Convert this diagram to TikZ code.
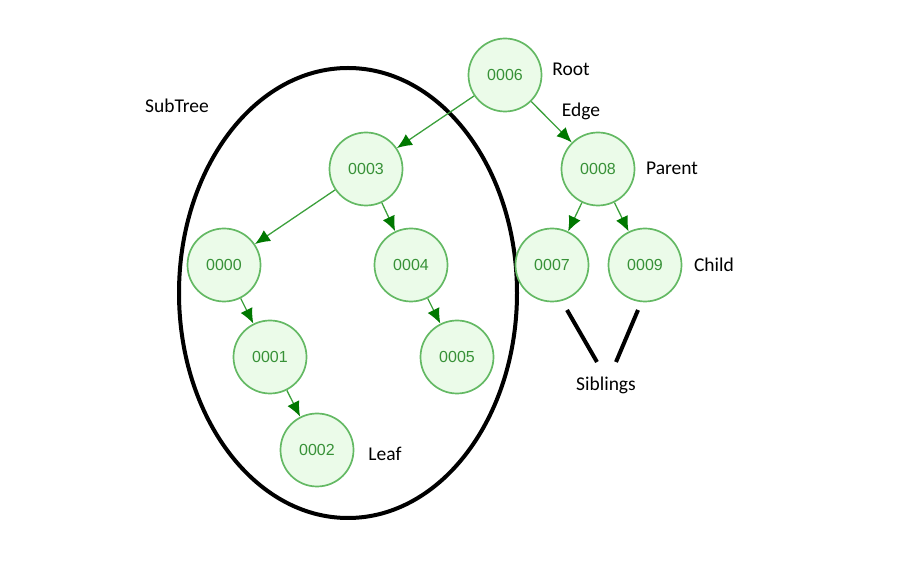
\documentclass[tikz,border=0pt]{standalone}
\usepackage{fontspec}
\setmainfont{Carlito}
\newfontfamily\keyfont{Liberation Sans}
\usetikzlibrary{arrows.meta}
\definecolor{keyfill}{RGB}{235,251,233}
\definecolor{keydraw}{RGB}{100,185,100}
\definecolor{keytext}{RGB}{55,145,55}
\definecolor{edgeline}{RGB}{60,160,60}
\definecolor{edgehead}{RGB}{0,120,0}
\tikzset{
  treekey/.style={circle,draw=keydraw,fill=keyfill,line width=1.7bp,minimum size=73bp,inner sep=0pt,
    text=keytext,font=\keyfont\fontsize{16bp}{19bp}\selectfont},
  treelabel/.style={draw=none,font=\fontsize{19.5bp}{23bp}\selectfont},
  treeedge/.style={edgeline,line width=1.3bp,-{Latex[length=15bp,width=13bp,color=edgehead]}},
}
\begin{document}
\begin{tikzpicture}[line join=bevel,]
\useasboundingbox (0bp,0bp) rectangle (897bp,569bp);
%%
\draw [black,line width=4bp] (348bp,276bp) ellipse (169bp and 225bp);
%
\node (node_6) at (505bp,494bp) [treekey] {0006};
  \node (node_3) at (366bp,400bp) [treekey] {0003};
  \node (node_8) at (598bp,400bp) [treekey] {0008};
  \node (node_0) at (224bp,304bp) [treekey] {0000};
  \node (node_4) at (411bp,304bp) [treekey] {0004};
  \node (node_7) at (552bp,304bp) [treekey] {0007};
  \node (node_9) at (645bp,304bp) [treekey] {0009};
  \node (node_1) at (270bp,212bp) [treekey] {0001};
  \node (node_5) at (457bp,212bp) [treekey] {0005};
  \node (node_2) at (317bp,119bp) [treekey] {0002};
%
  \draw [treeedge] (node_6) -- (node_3);
  \draw [treeedge] (node_6) -- (node_8);
  \draw [treeedge] (node_3) -- (node_0);
  \draw [treeedge] (node_3) -- (node_4);
  \draw [treeedge] (node_8) -- (node_7);
  \draw [treeedge] (node_8) -- (node_9);
  \draw [treeedge] (node_0) -- (node_1);
  \draw [treeedge] (node_4) -- (node_5);
  \draw [treeedge] (node_1) -- (node_2);
%
\node (label_root) at (571bp,500bp) [treelabel] {Root};
  \node (label_edge) at (581bp,458bp) [treelabel] {Edge};
  \node (label_parent) at (672bp,401bp) [treelabel] {Parent};
  \node (label_child) at (714bp,304bp) [treelabel] {Child};
  \node (label_subtree) at (177bp,463bp) [treelabel] {SubTree};
  \node (label_leaf) at (385bp,115bp) [treelabel] {Leaf};
  \node (label_siblings) at (606bp,184bp) [treelabel] {Siblings};
%
\coordinate (sib_a1) at (567bp,259bp);
  \coordinate (sib_a2) at (597bp,207bp);
  \coordinate (sib_b1) at (638bp,259bp);
  \coordinate (sib_b2) at (616bp,207bp);
  \draw [black,line width=4bp] (sib_a1) -- (sib_a2);
  \draw [black,line width=4bp] (sib_b1) -- (sib_b2);
%
\end{tikzpicture}
\end{document}
